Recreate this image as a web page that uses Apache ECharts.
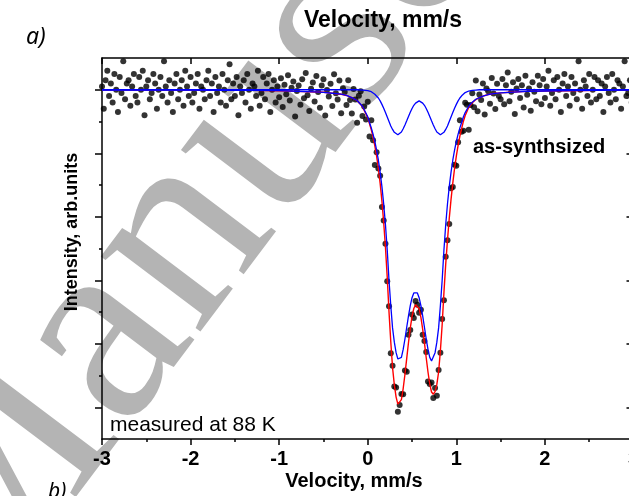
<!DOCTYPE html>
<html>
<head>
<meta charset="utf-8">
<script src="https://cdn.jsdelivr.net/npm/echarts@6/dist/echarts.min.js"></script>
<style>
  html, body { margin: 0; padding: 0; background: #ffffff; }
  #chart { width: 629px; height: 496px; }
</style>
</head>
<body>
<div id="chart"></div>
<script>
// Mössbauer spectrum, as-synthesized sample, 88 K

// measured channels: velocity (mm/s) and relative transmission
const velocity = [
  -3.00,-2.98,-2.96,-2.94,-2.92,-2.90,-2.88,-2.86,-2.84,-2.82,
  -2.80,-2.78,-2.76,-2.74,-2.72,-2.70,-2.68,-2.66,-2.64,-2.62,
  -2.60,-2.58,-2.56,-2.54,-2.52,-2.50,-2.48,-2.46,-2.44,-2.42,
  -2.40,-2.38,-2.36,-2.34,-2.32,-2.30,-2.28,-2.26,-2.24,-2.22,
  -2.20,-2.18,-2.16,-2.14,-2.12,-2.10,-2.08,-2.06,-2.04,-2.02,
  -2.00,-1.98,-1.96,-1.94,-1.92,-1.90,-1.88,-1.86,-1.84,-1.82,
  -1.80,-1.78,-1.76,-1.74,-1.72,-1.70,-1.68,-1.66,-1.64,-1.62,
  -1.60,-1.58,-1.56,-1.54,-1.52,-1.50,-1.48,-1.46,-1.44,-1.42,
  -1.40,-1.38,-1.36,-1.34,-1.32,-1.30,-1.28,-1.26,-1.24,-1.22,
  -1.20,-1.18,-1.16,-1.14,-1.12,-1.10,-1.08,-1.06,-1.04,-1.02,
  -1.00,-0.98,-0.96,-0.94,-0.92,-0.90,-0.88,-0.86,-0.84,-0.82,
  -0.80,-0.78,-0.76,-0.74,-0.72,-0.70,-0.68,-0.66,-0.64,-0.62,
  -0.60,-0.58,-0.56,-0.54,-0.52,-0.50,-0.48,-0.46,-0.44,-0.42,
  -0.40,-0.38,-0.36,-0.34,-0.32,-0.30,-0.28,-0.26,-0.24,-0.22,
  -0.20,-0.18,-0.16,-0.14,-0.12,-0.10,-0.08,-0.06,-0.04,-0.02,
   0.00, 0.02, 0.04, 0.06, 0.08, 0.10, 0.12, 0.14, 0.16, 0.18,
   0.20, 0.22, 0.24, 0.26, 0.28, 0.30, 0.32, 0.34, 0.36, 0.38,
   0.40, 0.42, 0.44, 0.46, 0.48, 0.50, 0.52, 0.54, 0.56, 0.58,
   0.60, 0.62, 0.64, 0.66, 0.68, 0.70, 0.72, 0.74, 0.76, 0.78,
   0.80, 0.82, 0.84, 0.86, 0.88, 0.90, 0.92, 0.94, 0.96, 0.98,
   1.00, 1.02, 1.04, 1.06, 1.08, 1.10, 1.12, 1.14, 1.16, 1.18,
   1.20, 1.22, 1.24, 1.26, 1.28, 1.30, 1.32, 1.34, 1.36, 1.38,
   1.40, 1.42, 1.44, 1.46, 1.48, 1.50, 1.52, 1.54, 1.56, 1.58,
   1.60, 1.62, 1.64, 1.66, 1.68, 1.70, 1.72, 1.74, 1.76, 1.78,
   1.80, 1.82, 1.84, 1.86, 1.88, 1.90, 1.92, 1.94, 1.96, 1.98,
   2.00, 2.02, 2.04, 2.06, 2.08, 2.10, 2.12, 2.14, 2.16, 2.18,
   2.20, 2.22, 2.24, 2.26, 2.28, 2.30, 2.32, 2.34, 2.36, 2.38,
   2.40, 2.42, 2.44, 2.46, 2.48, 2.50, 2.52, 2.54, 2.56, 2.58,
   2.60, 2.62, 2.64, 2.66, 2.68, 2.70, 2.72, 2.74, 2.76, 2.78,
   2.80, 2.82, 2.84, 2.86, 2.88, 2.90, 2.92, 2.94, 2.96, 2.98,
   3.00
];
const transmission = [
  1.001,0.994,1.003,1.006,0.998,1.002,0.996,1.005,1.000,0.993,
  1.004,0.999,1.009,0.997,1.002,1.003,0.995,1.001,1.005,0.998,
  0.996,1.004,1.000,1.006,0.992,1.001,1.003,0.997,0.999,1.005,
  1.002,0.994,1.000,1.004,0.998,1.009,1.001,0.996,1.003,0.999,
  0.993,1.002,1.005,0.997,1.000,1.003,0.995,1.006,1.001,0.998,
  1.004,0.996,0.999,1.002,1.005,0.994,1.001,1.000,0.997,1.003,
  1.006,0.998,1.002,0.993,1.004,0.999,1.001,0.996,1.005,1.000,
  0.995,1.003,1.008,0.997,1.002,0.998,1.004,0.992,1.001,0.999,
  1.003,0.996,1.005,1.000,0.994,1.002,1.001,0.998,1.006,0.995,
  0.999,1.004,0.997,1.002,1.005,0.993,1.000,1.003,0.996,1.001,
  0.9976,1.0036,0.9946,1.0016,0.9986,1.0046,0.9966,1.0006,1.0026,0.9916,
  0.9996,1.0013,0.9953,1.0033,0.9973,1.0053,0.9983,0.9933,1.0003,1.0023,
  0.9963,1.0043,0.9993,0.9943,1.0013,1.0033,0.9919,0.9999,0.9979,1.0019,
  0.9949,1.0049,0.9989,0.9969,1.0029,0.9926,1.0005,0.9993,0.9952,1.0030,
  0.9968,0.9925,1.0002,0.9969,0.9896,0.9981,0.9995,0.9917,0.9947,0.9906,
  0.9962,0.9853,0.9904,0.9841,0.9763,0.9803,0.9752,0.9729,0.9631,0.9588,
  0.9515,0.9397,0.9318,0.9170,0.9131,0.9065,0.9062,0.8986,0.9007,0.9042,
  0.9041,0.9116,0.9112,0.9228,0.9243,0.9292,0.9281,0.9335,0.9323,0.9298,
  0.9307,0.9228,0.9209,0.9174,0.9081,0.9073,0.9078,0.9029,0.9061,0.9036,
  0.9117,0.9172,0.9278,0.9337,0.9474,0.9526,0.9577,0.9690,0.9694,0.9764,
  0.9761,0.9835,0.9904,0.9868,0.9871,0.9959,0.9953,0.9874,0.9952,0.9989,
  0.9945,1.0029,0.9932,0.9985,0.9968,1.0020,0.9922,1.0004,0.9995,0.9956,
  1.0037,0.9988,0.9939,1.0019,0.9980,0.9970,1.0034,0.9954,1.0014,1.0054,
  0.9964,0.9994,1.0024,0.9924,1.0004,1.0034,0.9974,1.0014,0.9944,1.0044,
  0.9984,1.0004,0.9934,1.0024,0.9994,0.9964,1.0044,1.0014,0.9954,1.0034,
  0.9974,1.001,1.006,0.995,0.999,1.003,0.997,1.004,1.000,0.993,
  1.002,1.005,0.998,1.001,0.995,1.004,0.999,1.002,0.997,1.009,
  1.000,0.994,1.003,1.001,0.998,1.005,0.996,1.000,1.004,0.997,
  1.003,0.998,1.002,0.993,1.001,1.004,0.999,0.996,1.005,1.000,
  0.997,1.003,1.002,0.994,1.001,1.009,0.998,0.999,1.003,0.996,
  1.001
];

// fitted envelope and the two quadrupole doublets
const fitVelocity = [
  -3.00,-2.50,-2.00,-1.60,-1.30,-1.00,-0.80,-0.60,-0.50,-0.40,
  -0.30,-0.24,-0.18,-0.12,-0.06, 0.00, 0.02, 0.04, 0.06, 0.08,
   0.10, 0.12, 0.14, 0.16, 0.18, 0.20, 0.22, 0.24, 0.26, 0.28,
   0.30, 0.32, 0.34, 0.36, 0.38, 0.40, 0.42, 0.44, 0.46, 0.48,
   0.50, 0.52, 0.54, 0.56, 0.58, 0.60, 0.62, 0.64, 0.66, 0.68,
   0.70, 0.72, 0.74, 0.76, 0.78, 0.80, 0.82, 0.84, 0.86, 0.88,
   0.90, 0.92, 0.94, 0.96, 0.98, 1.00, 1.02, 1.04, 1.06, 1.08,
   1.10, 1.14, 1.18, 1.22, 1.26, 1.30, 1.36, 1.42, 1.50, 1.60,
   1.80, 2.00, 2.30, 2.60, 3.00
];
const fitTotal = [
  0.9999,0.9999,0.9999,0.9998,0.9998,0.9997,0.9995,0.9993,0.9992,0.9989,
  0.9986,0.9982,0.9975,0.9966,0.9947,0.9912,0.9893,0.9874,0.9851,0.9823,
  0.9791,0.9752,0.9705,0.9649,0.9582,0.9503,0.9409,0.9300,0.9206,0.9125,
  0.9071,0.9032,0.9010,0.9007,0.9024,0.9059,0.9104,0.9154,0.9204,0.9249,
  0.9286,0.9311,0.9323,0.9323,0.9310,0.9283,0.9246,0.9203,0.9156,0.9111,
  0.9073,0.9048,0.9041,0.9049,0.9072,0.9111,0.9178,0.9260,0.9361,0.9450,
  0.9526,0.9595,0.9654,0.9706,0.9752,0.9791,0.9825,0.9854,0.9878,0.9901,
  0.9919,0.9944,0.9959,0.9969,0.9975,0.9980,0.9985,0.9988,0.9990,0.9992,
  0.9995,0.9996,0.9997,0.9998,0.9999
];
const fitDoubletA = [
  1.0000,1.0000,1.0000,1.0000,1.0000,1.0000,1.0000,1.0000,1.0000,1.0000,
  1.0000,1.0000,1.0000,1.0000,0.9999,0.9997,0.9996,0.9994,0.9991,0.9986,
  0.9981,0.9974,0.9965,0.9954,0.9942,0.9928,0.9914,0.9900,0.9886,0.9875,
  0.9866,0.9860,0.9858,0.9861,0.9867,0.9877,0.9889,0.9902,0.9916,0.9929,
  0.9941,0.9951,0.9958,0.9963,0.9965,0.9963,0.9958,0.9951,0.9941,0.9929,
  0.9916,0.9902,0.9889,0.9877,0.9867,0.9861,0.9858,0.9860,0.9866,0.9875,
  0.9886,0.9900,0.9914,0.9928,0.9942,0.9954,0.9965,0.9974,0.9981,0.9986,
  0.9991,0.9996,0.9998,0.9999,1.0000,1.0000,1.0000,1.0000,1.0000,1.0000,
  1.0000,1.0000,1.0000,1.0000,1.0000
];
const fitDoubletB = [
  0.9999,0.9999,0.9999,0.9998,0.9998,0.9997,0.9995,0.9993,0.9992,0.9989,
  0.9986,0.9982,0.9975,0.9966,0.9948,0.9915,0.9897,0.9880,0.9860,0.9837,
  0.9810,0.9778,0.9740,0.9695,0.9640,0.9575,0.9495,0.9400,0.9320,0.9250,
  0.9205,0.9172,0.9152,0.9146,0.9157,0.9182,0.9215,0.9252,0.9288,0.9320,
  0.9345,0.9360,0.9365,0.9360,0.9345,0.9320,0.9288,0.9252,0.9215,0.9182,
  0.9157,0.9146,0.9152,0.9172,0.9205,0.9250,0.9320,0.9400,0.9495,0.9575,
  0.9640,0.9695,0.9740,0.9778,0.9810,0.9837,0.9860,0.9880,0.9897,0.9915,
  0.9928,0.9948,0.9961,0.9970,0.9975,0.9980,0.9985,0.9988,0.9990,0.9992,
  0.9995,0.9996,0.9997,0.9998,0.9999
];

// axis ranges and tick positions
const velocityRange = [-3, 3];
const intensityRange = [0.89, 1.01];
const intensityMajorTicks = [0.90, 0.92, 0.94, 0.96, 0.98, 1.00];
const intensityMinorTicks = [0.91, 0.93, 0.95, 0.97, 0.99];

// text drawn on the figure
const axisTitleX = 'Velocity, mm/s';
const axisTitleY = 'Intensity, arb.units';
const panelLabel = 'a)';
const nextPanelLabel = 'b)';
const sampleLabel = 'as-synthsized';
const conditionLabel = 'measured at 88 K';
const watermarkText = 'Manuscript';

const pairs = (xs, ys) => xs.map((x, i) => [x, ys[i]]);

const black = '#000000';
const sans = '"Liberation Sans", Arial, sans-serif';

const chart = echarts.init(document.getElementById('chart'), null, { renderer: 'canvas' });

const hiddenLabel = { show: false };
const axisLineStyle = { show: true, onZero: false, lineStyle: { color: black, width: 1.5 } };
const tickLine = { color: black, width: 1.5 };

chart.setOption({
  animation: false,
  backgroundColor: '#ffffff',
  grid: { left: 102, top: 58, right: -4.5, bottom: 57, containLabel: false, outerBoundsMode: 'none' },
  xAxis: [
    {
      type: 'value', position: 'bottom',
      min: velocityRange[0], max: velocityRange[1], interval: 1,
      axisLine: axisLineStyle,
      axisTick: { show: true, inside: false, length: 6, lineStyle: tickLine },
      minorTick: { show: true, splitNumber: 2, length: 3, lineStyle: tickLine },
      axisLabel: { show: true, color: black, fontFamily: sans, fontWeight: 'bold', fontSize: 20, margin: 10 },
      splitLine: { show: false }, minorSplitLine: { show: false }
    },
    {
      type: 'value', position: 'top',
      min: velocityRange[0], max: velocityRange[1], interval: 1,
      axisLine: axisLineStyle,
      axisTick: { show: true, inside: true, length: 6, lineStyle: tickLine },
      axisLabel: hiddenLabel,
      splitLine: { show: false }
    }
  ],
  yAxis: [
    {
      type: 'value', position: 'left',
      min: intensityRange[0], max: intensityRange[1],
      axisLine: axisLineStyle,
      axisTick: { show: true, inside: false, length: 7, customValues: intensityMajorTicks, lineStyle: tickLine },
      axisLabel: hiddenLabel,
      splitLine: { show: false }
    },
    {
      type: 'value', position: 'left',
      min: intensityRange[0], max: intensityRange[1],
      axisLine: { show: false, onZero: false },
      axisTick: { show: true, inside: false, length: 3, customValues: intensityMinorTicks, lineStyle: tickLine },
      axisLabel: hiddenLabel,
      splitLine: { show: false }
    },
    {
      type: 'value', position: 'right',
      min: intensityRange[0], max: intensityRange[1],
      axisLine: axisLineStyle,
      axisTick: { show: true, inside: true, length: 7, customValues: intensityMajorTicks, lineStyle: tickLine },
      axisLabel: hiddenLabel,
      splitLine: { show: false }
    }
  ],
  series: [
    {
      name: 'measured', type: 'scatter',
      data: pairs(velocity, transmission),
      symbol: 'circle', symbolSize: 6,
      itemStyle: { color: black },
      z: 2
    },
    {
      name: 'fit', type: 'line',
      data: pairs(fitVelocity, fitTotal),
      showSymbol: false, smooth: false,
      lineStyle: { color: '#ff0000', width: 1.4 },
      z: 3
    },
    {
      name: 'doublet A', type: 'line',
      data: pairs(fitVelocity, fitDoubletA),
      showSymbol: false, smooth: false,
      lineStyle: { color: '#0000ff', width: 1.3 },
      z: 4
    },
    {
      name: 'doublet B', type: 'line',
      data: pairs(fitVelocity, fitDoubletB),
      showSymbol: false, smooth: false,
      lineStyle: { color: '#0000ff', width: 1.3 },
      z: 4
    }
  ],
  graphic: [
    {
      type: 'text', z: -10, silent: true,
      x: 30, y: 665, rotation: 53 * Math.PI / 180,
      style: {
        text: watermarkText, x: 0, y: 0,
        font: '272px "Liberation Serif", "Times New Roman", serif',
        fill: '#b4b4b4', textAlign: 'left', textVerticalAlign: 'bottom'
      }
    },
    {
      type: 'text', silent: true, x: 383, y: 21,
      style: { text: axisTitleX, font: 'bold 23px ' + sans, fill: black, textAlign: 'center', textVerticalAlign: 'middle' }
    },
    {
      type: 'text', silent: true, x: 26, y: 37,
      style: { text: panelLabel, font: 'italic 23px "Noto Sans", sans-serif', fill: black, textAlign: 'left', textVerticalAlign: 'middle' }
    },
    {
      type: 'text', silent: true, x: 354, y: 481,
      style: { text: axisTitleX, font: 'bold 20px ' + sans, fill: black, textAlign: 'center', textVerticalAlign: 'middle' }
    },
    {
      type: 'text', silent: true, x: 72, y: 232, rotation: Math.PI / 2,
      style: { text: axisTitleY, font: 'bold 18px ' + sans, fill: black, textAlign: 'center', textVerticalAlign: 'middle' }
    },
    {
      type: 'text', silent: true, x: 110, y: 425,
      style: { text: conditionLabel, font: '21px ' + sans, fill: black, textAlign: 'left', textVerticalAlign: 'middle' }
    },
    {
      type: 'text', silent: true, x: 473, y: 147,
      style: { text: sampleLabel, font: 'bold 20px ' + sans, fill: black, textAlign: 'left', textVerticalAlign: 'middle' }
    },
    {
      type: 'text', silent: true, x: 48, y: 492,
      style: { text: nextPanelLabel, font: 'italic 21px "Noto Sans", sans-serif', fill: black, textAlign: 'left', textVerticalAlign: 'middle' }
    }
  ]
});
</script>
</body>
</html>
